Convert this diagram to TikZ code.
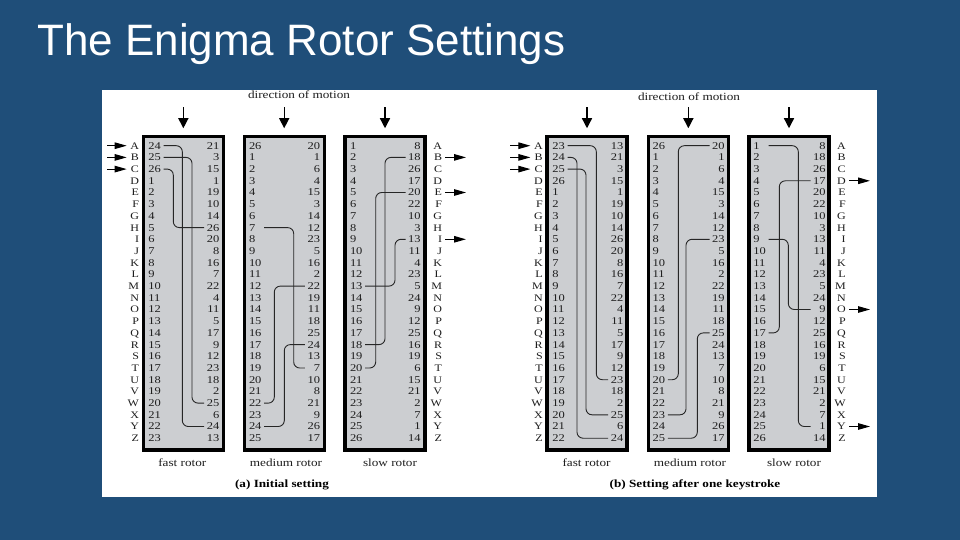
\documentclass[tikz,border=0pt]{standalone}
\usepackage{fontspec}
\setmainfont[FakeStretch=1.2]{Liberation Serif}
\newfontfamily\titlefont{Liberation Sans}
\usetikzlibrary{arrows.meta}
\definecolor{slidebg}{RGB}{31,78,121}
\definecolor{rotorgray}{RGB}{204,206,209}
\definecolor{inkc}{RGB}{30,30,30}
\tikzset{
  rotorbox/.style={draw=black,fill=rotorgray,line width=3.3pt,minimum width=80pt,minimum height=313.4pt,inner sep=0pt,outer sep=0pt},
  numl/.style={anchor=west,inner sep=0pt,outer sep=0pt,text=inkc,text height=6.9pt,text depth=0pt,font=\fontsize{10.4}{12}\selectfont},
  numr/.style={anchor=east,inner sep=0pt,outer sep=0pt,text=inkc,text height=6.9pt,text depth=0pt,font=\fontsize{10.4}{12}\selectfont},
  letterc/.style={anchor=east,inner sep=0pt,outer sep=0pt,text=inkc,text height=6.9pt,text depth=0pt,font=\fontsize{10}{12}\selectfont},
  wire/.style={line width=0.9pt,draw=black!85,rounded corners=6pt,shorten <=2.7pt,shorten >=2.7pt},
  sidein/.style={line width=1.1pt,-{Triangle[length=12pt,width=6.5pt]}},
  sideout/.style={line width=1.1pt,shorten <=3.3pt,-{Triangle[length=12pt,width=6.5pt]}},
  downarrow/.style={line width=1.3pt,shorten >=8.4pt,-{Triangle[length=10pt,width=10pt]}},
  captext/.style={inner sep=0pt,text=inkc,font=\fontsize{11}{13}\selectfont},
  boldcap/.style={inner sep=0pt,text=black,font=\fontsize{11}{13}\selectfont\bfseries},
}
\newcommand{\numcol}[5]{%
  \foreach \t [count=\i from 0] in {#5}
    \node[#3] (#1-\i) at (#2,{145.7+\i*11.7}) {\makebox[12.5pt][#4]{\t}};
}
\newcommand{\lettercol}[2]{%
  \foreach \t [count=\i from 0] in {A,B,C,D,E,F,G,H,I,J,K,L,M,N,O,P,Q,R,S,T,U,V,W,X,Y,Z}
    \node[letterc] (#1-\i) at (#2,{145.7+\i*11.7}) {\makebox[12.3pt][r]{\t}};
}
\newcommand{\wirelink}[3]{%
  \coordinate (vx) at (#3,0);
  \draw[wire] (#1.east) -- (vx |- #1.east) -- (vx |- #2.west) -- (#2.west);
}
\newcommand{\inarrow}[2]{%
  \coordinate (s#2) at (#1,0);
  \draw[sidein] (s#2 |- #2.west) -- (#2.west);
}
\newcommand{\outarrow}[2]{%
  \coordinate (s#2) at (#1,0);
  \draw[sideout] (#2.east) -- (s#2 |- #2.east);
}
\begin{document}
\begin{tikzpicture}[x=1pt,y=-1pt]
\useasboundingbox (0,0) rectangle (960,540);
\fill[slidebg] (0,0) rectangle (960,540);
\node[anchor=base west,inner sep=0pt,text=white,font=\titlefont\fontsize{44}{50}\selectfont] (title) at (37,56) {The Enigma Rotor Settings};
\fill[white] (102,90) rectangle (876.5,496.7);
\node[captext] (dira) at (299,95) {direction of motion};
\node[captext] (dirb) at (689,96.7) {direction of motion};

% rotors (a)
\node[rotorbox] (ra1) at (183.35,293.35) {};
\node[rotorbox] (ra2) at (284.2,293.35) {};
\node[rotorbox] (ra3) at (385,293.35) {};
% rotors (b)
\node[rotorbox] (rb1) at (587,293.35) {};
\node[rotorbox] (rb2) at (688.35,293.35) {};
\node[rotorbox] (rb3) at (789,293.35) {};
\foreach \r in {ra1,ra2,ra3,rb1,rb2,rb3} {
  \coordinate (\r top) at ([yshift=29.4pt]\r.north);
  \draw[downarrow] (\r top) -- (\r.north);
}

% numbers (a)
\numcol{a1l}{148.3}{numl}{l}{24,25,26,1,2,3,4,5,6,7,8,9,10,11,12,13,14,15,16,17,18,19,20,21,22,23}
\numcol{a1r}{219.3}{numr}{r}{21,3,15,1,19,10,14,26,20,8,16,7,22,4,11,5,17,9,12,23,18,2,25,6,24,13}
\numcol{a2l}{249}{numl}{l}{26,1,2,3,4,5,6,7,8,9,10,11,12,13,14,15,16,17,18,19,20,21,22,23,24,25}
\numcol{a2r}{320}{numr}{r}{20,1,6,4,15,3,14,12,23,5,16,2,22,19,11,18,25,24,13,7,10,8,21,9,26,17}
\numcol{a3l}{350}{numl}{l}{1,2,3,4,5,6,7,8,9,10,11,12,13,14,15,16,17,18,19,20,21,22,23,24,25,26}
\numcol{a3r}{420.7}{numr}{r}{8,18,26,17,20,22,10,3,13,11,4,23,5,24,9,12,25,16,19,6,15,21,2,7,1,14}
% numbers (b)
\numcol{b1l}{552.3}{numl}{l}{23,24,25,26,1,2,3,4,5,6,7,8,9,10,11,12,13,14,15,16,17,18,19,20,21,22}
\numcol{b1r}{623.3}{numr}{r}{13,21,3,15,1,19,10,14,26,20,8,16,7,22,4,11,5,17,9,12,23,18,2,25,6,24}
\numcol{b2l}{652.7}{numl}{l}{26,1,2,3,4,5,6,7,8,9,10,11,12,13,14,15,16,17,18,19,20,21,22,23,24,25}
\numcol{b2r}{724.7}{numr}{r}{20,1,6,4,15,3,14,12,23,5,16,2,22,19,11,18,25,24,13,7,10,8,21,9,26,17}
\numcol{b3l}{753.3}{numl}{l}{1,2,3,4,5,6,7,8,9,10,11,12,13,14,15,16,17,18,19,20,21,22,23,24,25,26}
\numcol{b3r}{825.7}{numr}{r}{8,18,26,17,20,22,10,3,13,11,4,23,5,24,9,12,25,16,19,6,15,21,2,7,1,14}

% letters
\lettercol{la}{139}
\lettercol{ra}{442}
\lettercol{lb}{542.7}
\lettercol{rb}{845.7}

% wires (a)
\wirelink{a1l-0}{a1r-24}{182.3}
\wirelink{a1l-1}{a1r-22}{192}
\wirelink{a1l-2}{a1r-7}{173.3}
\wirelink{a2l-7}{a2r-19}{293.7}
\wirelink{a2l-22}{a2r-12}{274.3}
\wirelink{a2l-24}{a2r-17}{284.3}
\wirelink{a3l-12}{a3r-8}{395}
\wirelink{a3l-17}{a3r-1}{385}
\wirelink{a3l-19}{a3r-4}{375.7}
% wires (b)
\wirelink{b1l-0}{b1r-20}{596.3}
\wirelink{b1l-1}{b1r-25}{577}
\wirelink{b1l-2}{b1r-23}{586}
\wirelink{b2l-20}{b2r-0}{678.3}
\wirelink{b2l-23}{b2r-8}{686}
\wirelink{b2l-25}{b2r-16}{697.3}
\wirelink{b3l-0}{b3r-24}{798.3}
\wirelink{b3l-8}{b3r-14}{788.3}
\wirelink{b3l-16}{b3r-3}{779.3}

% side arrows
\inarrow{107}{la-0}
\inarrow{107}{la-1}
\inarrow{107}{la-2}
\outarrow{466}{ra-1}
\outarrow{466}{ra-4}
\outarrow{466}{ra-8}
\inarrow{510}{lb-0}
\inarrow{510}{lb-1}
\inarrow{510}{lb-2}
\outarrow{870}{rb-3}
\outarrow{870}{rb-14}
\outarrow{870}{rb-24}

% captions
\node[captext] (c1) at (182.3,462.7) {fast rotor};
\node[captext] (c2) at (286,462.7) {medium rotor};
\node[captext] (c3) at (390,462.7) {slow rotor};
\node[captext] (c4) at (586.5,462.7) {fast rotor};
\node[captext] (c5) at (690,462.7) {medium rotor};
\node[captext] (c6) at (794,462.7) {slow rotor};
\node[boldcap] (ca) at (282,484.5) {(a) Initial setting};
\node[boldcap] (cb) at (695,484.5) {(b) Setting after one keystroke};
\end{tikzpicture}
\end{document}
